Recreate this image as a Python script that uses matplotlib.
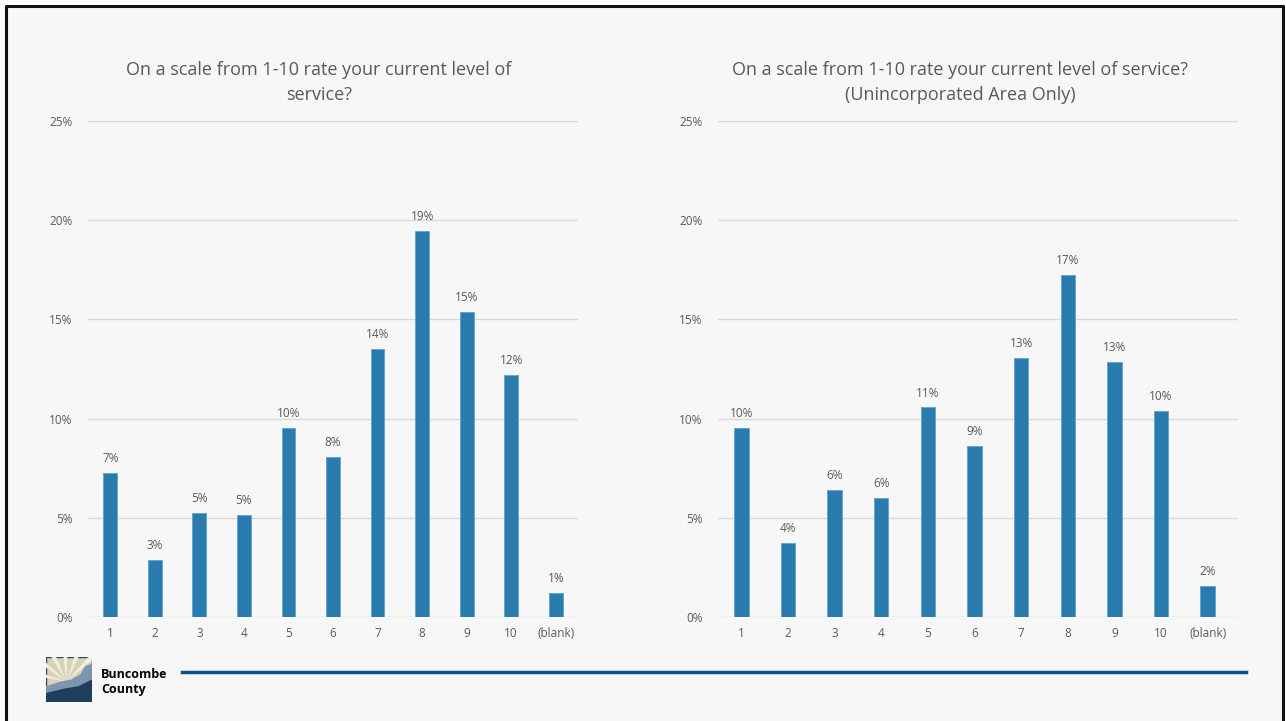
import numpy as np
import matplotlib
matplotlib.use("Agg")
from matplotlib import pyplot as plt
from matplotlib.patches import Rectangle, Polygon
from matplotlib.lines import Line2D

plt.rcParams['font.family'] = ['Open Sans', 'DejaVu Sans']

categories = ['1', '2', '3', '4', '5', '6', '7', '8', '9', '10', '(blank)']
all_areas = [0.0724, 0.0286, 0.0522, 0.0515, 0.0952, 0.0805, 0.1352, 0.1946, 0.1537, 0.1220, 0.0121]
unincorporated = [0.0955, 0.0373, 0.0639, 0.0602, 0.1056, 0.0861, 0.1305, 0.1723, 0.1284, 0.1039, 0.0158]
yticks = [0, 0.05, 0.10, 0.15, 0.20, 0.25]

title_left = "On a scale from 1-10 rate your current level of\nservice?"
title_right = "On a scale from 1-10 rate your current level of service?\n(Unincorporated Area Only)"

bg = '#f7f7f7'
bar_color = '#2a7cae'
text_color = '#595959'
W, H = 1286, 721

fig = plt.figure(figsize=(W/100, H/100), dpi=100)
fig.patch.set_facecolor('white')

# slide background and black frame
fig.patches.append(Rectangle((7/W, 0), (1282-7)/W, 1 - 7/H, transform=fig.transFigure,
                             facecolor=bg, edgecolor='none', zorder=-10))
fig.lines.append(Line2D([6/W, 6/W, 1283/W, 1283/W], [0, 1-6/H, 1-6/H, 0],
                        transform=fig.transFigure, color='#111111', lw=2.2, zorder=-5))


def draw_chart(rect, values, xmax):
    ax = fig.add_axes(rect)
    ax.set_facecolor('none')
    x = np.arange(len(categories))
    bars = ax.bar(x, values, width=0.31, color=bar_color, edgecolor='#5fa3cc', linewidth=0.6, zorder=3)
    for b, v in zip(bars, values):
        ax.text(b.get_x() + b.get_width()/2, v + 0.004, '{:.0f}%'.format(round(v*100)),
                ha='center', va='bottom', fontsize=8.5, color=text_color)
    ax.set_xlim(-0.5, xmax)
    ax.set_ylim(0, 0.25)
    ax.set_yticks(yticks)
    ax.set_yticklabels(['{:.0f}%'.format(t*100) for t in yticks])
    ax.set_xticks(x)
    ax.set_xticklabels(categories)
    ax.tick_params(axis='both', length=0, labelsize=8.5, labelcolor=text_color)
    ax.tick_params(axis='y', pad=11)
    ax.tick_params(axis='x', pad=7)
    ax.grid(axis='y', color='#d9d9d9', lw=1, zorder=0)
    for s in ax.spines.values():
        s.set_visible(False)
    return ax


draw_chart([88/W, 1 - 617/H, 490/W, 496/H], all_areas, 10.5)
draw_chart([718/W, 1 - 617/H, 520/W, 496/H], unincorporated, 10.65)

fig.text(319/W, 1 - 82.5/H, title_left, ha='center', va='center', fontsize=13,
         color=text_color, linespacing=1.55)
fig.text(960/W, 1 - 82.5/H, title_right, ha='center', va='center', fontsize=13,
         color=text_color, linespacing=1.55)

# footer: logo, name and rule
lax = fig.add_axes([46/W, 1 - 702/H, 46/W, 45/H])
lax.set_xlim(0, 1)
lax.set_ylim(0, 1)
lax.axis('off')
lax.add_patch(Rectangle((0, 0), 1, 1, facecolor='#d8d2b8', edgecolor='#2b4a6a', lw=1))
for a in np.linspace(0.3, 2.8, 7):
    lax.add_patch(Polygon([[0.45, 0.45], [0.45 + np.cos(a)*0.9, 0.45 + np.sin(a)*0.9],
                           [0.45 + np.cos(a + 0.15)*0.9, 0.45 + np.sin(a + 0.15)*0.9]],
                          facecolor='#f2eedc', edgecolor='none'))
lax.add_patch(Polygon([[0, 0.35], [0.3, 0.45], [0.55, 0.5], [0.75, 0.62], [0.85, 0.8],
                       [1, 0.85], [1, 0], [0, 0]], facecolor='#7d95ad', edgecolor='none'))
lax.add_patch(Polygon([[0, 0.2], [0.4, 0.3], [0.7, 0.35], [1, 0.5], [1, 0], [0, 0]],
                      facecolor='#1f3d5c', edgecolor='none'))

fig.text(101/W, 1 - 674/H, 'Buncombe', fontsize=9, fontweight='bold', color='black', va='center')
fig.text(101/W, 1 - 690/H, 'County', fontsize=9, fontweight='bold', color='black', va='center')
fig.lines.append(Line2D([182/W, 1246/W], [1 - 672/H, 1 - 672/H], transform=fig.transFigure,
                        color='#0b4f86', lw=2.5))

fig.savefig('out.png', dpi=100, facecolor=fig.get_facecolor())
